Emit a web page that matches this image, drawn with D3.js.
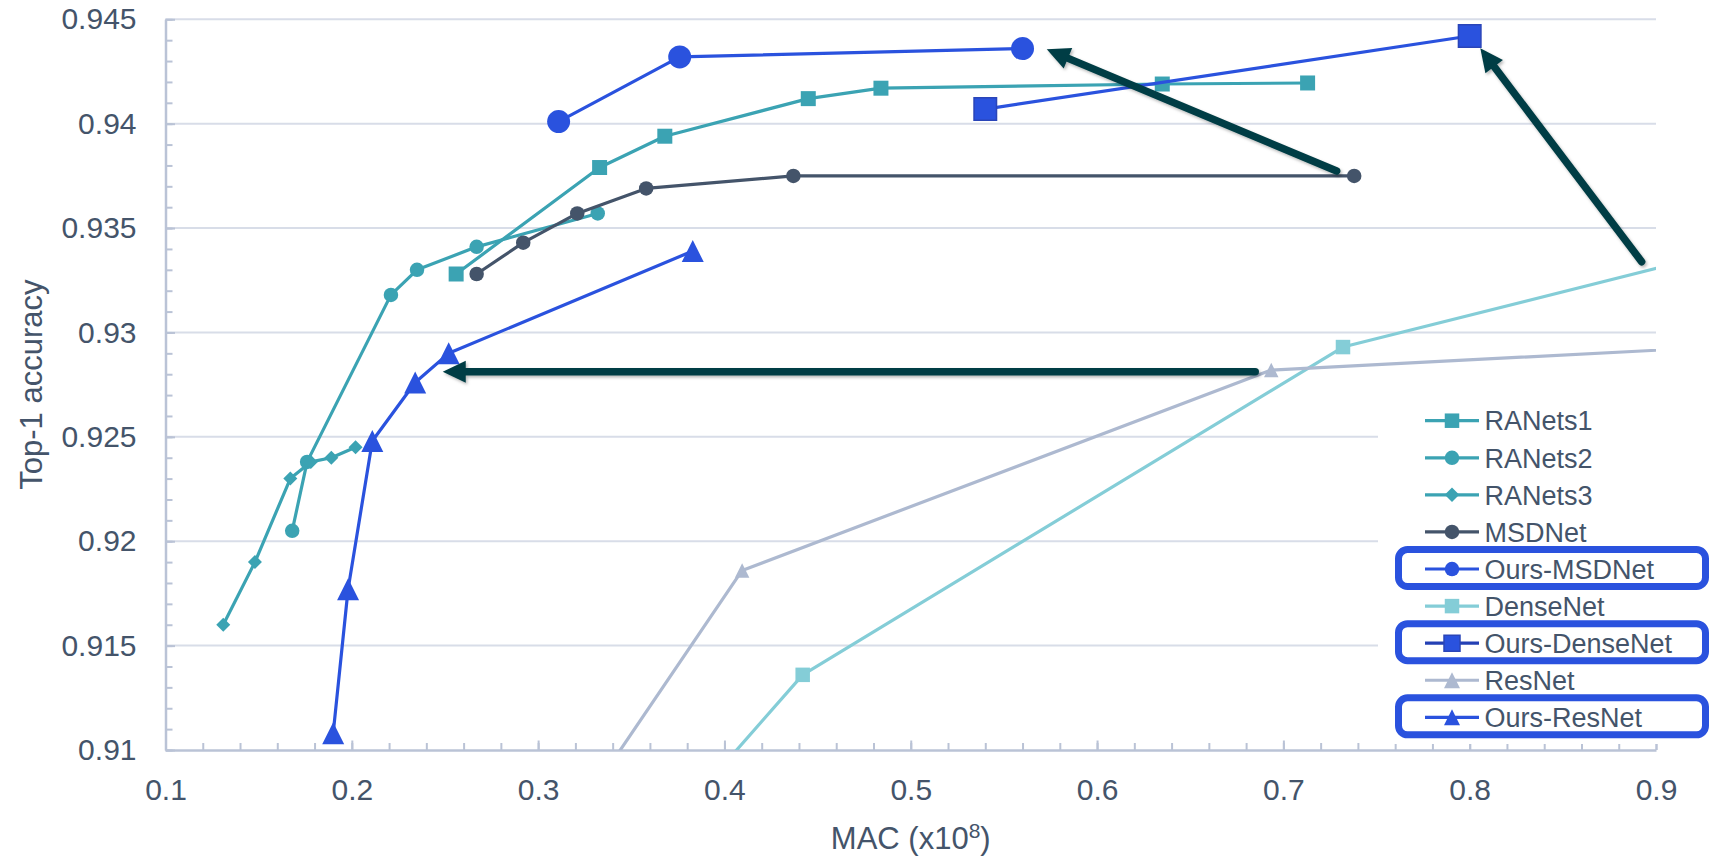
<!DOCTYPE html>
<html>
<head>
<meta charset="utf-8">
<script src="https://cdn.jsdelivr.net/npm/d3@7"></script>
<style>
  body { margin: 0; background: #fff; }
  svg text { font-family: "Liberation Sans", Arial, sans-serif; fill: #44546a; }
</style>
</head>
<body>
<div id="chart"></div>
<script>
// values: [MAC (x10^8), top-1 accuracy]
const ranets1 = [[0.256, 0.9328], [0.333, 0.9379], [0.368, 0.9394], [0.445, 0.9412], [0.484, 0.9417], [0.635, 0.9419], [0.713, 0.94195]];
const ranets2 = [[0.168, 0.9205], [0.176, 0.9238], [0.221, 0.9318], [0.235, 0.9330], [0.267, 0.9341], [0.332, 0.9357]];
const ranets3 = [[0.131, 0.9160], [0.148, 0.9190], [0.167, 0.9230], [0.178, 0.9238], [0.189, 0.9240], [0.202, 0.9245]];
const msdnet = [[0.267, 0.9328], [0.292, 0.9343], [0.321, 0.9357], [0.358, 0.9369], [0.437, 0.9375], [0.738, 0.9375]];
const oursMsdnet = [[0.311, 0.9401], [0.376, 0.9432], [0.560, 0.9436]];
const densenet = [[0.380, 0.9073], [0.442, 0.9136], [0.732, 0.9293], [1.2, 0.9398]];
const oursDensenet = [[0.540, 0.9407], [0.800, 0.9442]];
const resnet = [[0.300, 0.9042], [0.4095, 0.9186], [0.6935, 0.9282], [1.5, 0.9319]];
const oursResnet = [[0.190, 0.9108], [0.198, 0.9177], [0.211, 0.9248], [0.234, 0.9276], [0.252, 0.9290], [0.383, 0.9339]];

const seriesNames = ["RANets1", "RANets2", "RANets3", "MSDNet", "Ours-MSDNet", "DenseNet", "Ours-DenseNet", "ResNet", "Ours-ResNet"];
const seriesData = [ranets1, ranets2, ranets3, msdnet, oursMsdnet, densenet, oursDensenet, resnet, oursResnet];
const highlighted = ["Ours-MSDNet", "Ours-DenseNet", "Ours-ResNet"];

const xTicks = [0.1, 0.2, 0.3, 0.4, 0.5, 0.6, 0.7, 0.8, 0.9];
const yTicks = [0.91, 0.915, 0.92, 0.925, 0.93, 0.935, 0.94, 0.945];

// annotation arrows, [from, to] in data space
const arrows = [
  [[0.7286, 0.93773], [0.573, 0.94356]],
  [[0.8923, 0.93339], [0.8057, 0.94361]],
  [[0.6849, 0.92812], [0.2488, 0.92812]]
];

// look of each series
const styles = {
  "RANets1":       { color: "#3ba3b3", shape: "square",   size: 15 },
  "RANets2":       { color: "#3ba3b3", shape: "circle",   size: 14.5 },
  "RANets3":       { color: "#3ba3b3", shape: "diamond",  size: 14 },
  "MSDNet":        { color: "#44546a", shape: "circle",   size: 14.5 },
  "Ours-MSDNet":   { color: "#2a52de", shape: "circle",   size: 23 },
  "DenseNet":      { color: "#84cdd7", shape: "square",   size: 14.5 },
  "Ours-DenseNet": { color: "#2a52de", shape: "square",   size: 22.5, stroke: "#2a45b8", legendLine: "#2440b4" },
  "ResNet":        { color: "#adb9d0", shape: "triangle", size: 14.5 },
  "Ours-ResNet":   { color: "#2a52de", shape: "triangle", size: 22 }
};

function markerPath(shape, s) {
  const h = s / 2;
  if (shape === "square") return `M${-h},${-h}h${s}v${s}h${-s}Z`;
  if (shape === "diamond") return `M0,${-h}L${h},0L0,${h}L${-h},0Z`;
  if (shape === "triangle") return `M0,${-h}L${h},${h}L${-h},${h}Z`;
  return d3.symbol(d3.symbolCircle, Math.PI * h * h)();
}

const width = 1719, height = 857;
const plot = { left: 165.5, right: 1656, top: 19.3, bottom: 750 };

const svg = d3.select("#chart").append("svg")
  .attr("width", width)
  .attr("height", height);

const x = d3.scaleLinear().domain([0.1, 0.9]).range([plot.left, plot.right]);
const y = d3.scaleLinear().domain([0.91, 0.945]).range([plot.bottom, plot.top]);

const defs = svg.append("defs");
defs.append("clipPath").attr("id", "plotClip")
  .append("rect")
  .attr("x", plot.left).attr("y", plot.top)
  .attr("width", plot.right - plot.left).attr("height", plot.bottom - plot.top);
defs.append("filter").attr("id", "shadow")
  .attr("x", "-20%").attr("y", "-20%").attr("width", "140%").attr("height", "140%")
  .append("feDropShadow")
  .attr("dx", 1.5).attr("dy", 2).attr("stdDeviation", 1.5)
  .attr("flood-color", "#000").attr("flood-opacity", 0.28);

// gridlines
svg.append("g")
  .selectAll("line")
  .data(yTicks.filter(d => d > 0.91))
  .join("line")
  .attr("x1", plot.left).attr("x2", plot.right)
  .attr("y1", d => y(d)).attr("y2", d => y(d))
  .attr("stroke", "#d8dde8")
  .attr("stroke-width", 2);

// axes
const axisColor = "#bac3d6";
const yMinor = d3.range(0, 36).map(i => 0.91 + i * 0.001);
const xMinor = d3.range(0, 41).map(i => 0.1 + i * 0.02);

svg.append("g")
  .attr("transform", `translate(${plot.left},0)`)
  .call(d3.axisLeft(y).tickValues(yMinor).tickSize(-7).tickFormat(""))
  .call(g => g.select(".domain").remove())
  .call(g => g.selectAll("line").attr("stroke", axisColor).attr("stroke-width", 2));

svg.append("g")
  .attr("transform", `translate(0,${plot.bottom})`)
  .call(d3.axisBottom(x).tickValues(xMinor).tickSize(-7).tickFormat(""))
  .call(g => g.select(".domain").remove())
  .call(g => g.selectAll("line").attr("stroke", axisColor).attr("stroke-width", 2));

const yAxis = svg.append("g")
  .attr("transform", `translate(${plot.left},0)`)
  .call(d3.axisLeft(y).tickValues(yTicks).tickSize(-9.5).tickSizeOuter(0).tickPadding(29)
    .tickFormat(d => String(+d.toFixed(3))));

const xAxis = svg.append("g")
  .attr("transform", `translate(0,${plot.bottom})`)
  .call(d3.axisBottom(x).tickValues(xTicks).tickSize(-9.5).tickSizeOuter(0).tickPadding(28.5)
    .tickFormat(d => String(+d.toFixed(1))));

[yAxis, xAxis].forEach(g => {
  g.select(".domain").attr("stroke", axisColor).attr("stroke-width", 2.5);
  g.selectAll(".tick line").attr("stroke", axisColor).attr("stroke-width", 2);
  g.selectAll(".tick text").attr("font-size", 30).attr("fill", "#44546a");
});

// axis titles
const xTitle = svg.append("text")
  .attr("x", (plot.left + plot.right) / 2)
  .attr("y", 849)
  .attr("text-anchor", "middle")
  .attr("font-size", 31);
xTitle.append("tspan").text("MAC (x10");
xTitle.append("tspan").attr("font-size", 21).attr("dy", -11).text("8");
xTitle.append("tspan").attr("dy", 11).text(")");

svg.append("text")
  .attr("transform", `translate(42,${(plot.top + plot.bottom) / 2}) rotate(-90)`)
  .attr("text-anchor", "middle")
  .attr("font-size", 31)
  .text("Top-1 accuracy");

// series
const line = d3.line().x(d => x(d[0])).y(d => y(d[1]));
const inDomain = d => d[0] >= 0.1 && d[0] <= 0.9 && d[1] >= 0.91 && d[1] <= 0.945;

seriesNames.forEach((name, i) => {
  const st = styles[name];
  const data = seriesData[i];
  const g = svg.append("g");
  g.append("path")
    .datum(data)
    .attr("clip-path", "url(#plotClip)")
    .attr("d", line)
    .attr("fill", "none")
    .attr("stroke", st.color)
    .attr("stroke-width", 3.2)
    .attr("stroke-linejoin", "round");
  g.selectAll("path.mark")
    .data(data.filter(inDomain))
    .join("path")
    .attr("class", "mark")
    .attr("transform", d => `translate(${x(d[0])},${y(d[1])})`)
    .attr("d", markerPath(st.shape, st.size))
    .attr("fill", st.color)
    .attr("stroke", st.stroke || "none")
    .attr("stroke-width", st.stroke ? 1.5 : 0);
});

// arrows
const arrowColor = "#033e45";
const arrowG = svg.append("g").attr("filter", "url(#shadow)");
arrows.forEach(([from, to]) => {
  const x1 = x(from[0]), y1 = y(from[1]);
  const x2 = x(to[0]), y2 = y(to[1]);
  const len = Math.hypot(x2 - x1, y2 - y1);
  const ux = (x2 - x1) / len, uy = (y2 - y1) / len;
  const headLen = 23, headW = 22;
  const bx = x2 - ux * headLen, by = y2 - uy * headLen;
  arrowG.append("line")
    .attr("x1", x1).attr("y1", y1)
    .attr("x2", bx + ux * 3).attr("y2", by + uy * 3)
    .attr("stroke", arrowColor)
    .attr("stroke-width", 7.5)
    .attr("stroke-linecap", "round");
  arrowG.append("path")
    .attr("d", `M${x2},${y2}L${bx - uy * headW / 2},${by + ux * headW / 2}L${bx + uy * headW / 2},${by - ux * headW / 2}Z`)
    .attr("fill", arrowColor);
});

// legend
const legend = svg.append("g");
legend.append("rect")
  .attr("x", 1378).attr("y", 396)
  .attr("width", width - 1378).attr("height", 348)
  .attr("fill", "#fff");

const legendTop = 420.7, legendStep = 37.08;
seriesNames.forEach((name, i) => {
  const st = styles[name];
  const cy = legendTop + i * legendStep;
  const row = legend.append("g");
  if (highlighted.includes(name)) {
    row.append("rect")
      .attr("x", 1398.5).attr("y", cy - 19.5)
      .attr("width", 307).attr("height", 37)
      .attr("rx", 9)
      .attr("fill", "none")
      .attr("stroke", "#2a52de")
      .attr("stroke-width", 7);
  }
  row.append("line")
    .attr("x1", 1425).attr("x2", 1479)
    .attr("y1", cy).attr("y2", cy)
    .attr("stroke", st.legendLine || st.color)
    .attr("stroke-width", 3.2);
  row.append("path")
    .attr("transform", `translate(1452,${cy})`)
    .attr("d", markerPath(st.shape, st.shape === "triangle" || name === "Ours-DenseNet" ? 16 : 14.5))
    .attr("fill", st.color)
    .attr("stroke", st.stroke || "none")
    .attr("stroke-width", st.stroke ? 1.5 : 0);
  row.append("text")
    .attr("x", 1484.5).attr("y", cy)
    .attr("dy", "0.36em")
    .attr("font-size", 27)
    .text(name);
});
</script>
</body>
</html>
